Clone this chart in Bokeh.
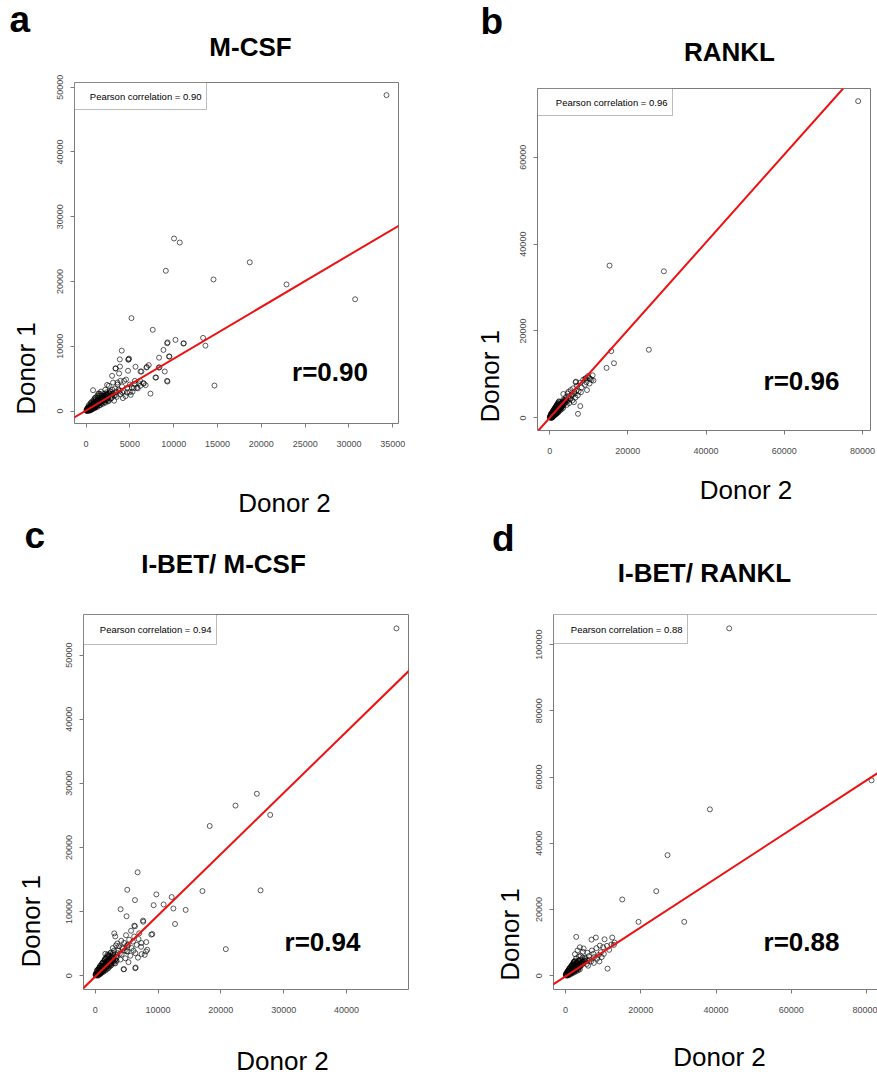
import math
from bokeh.plotting import figure
from bokeh.models import Range1d, FixedTicker, NumeralTickFormatter, Label, Slope, BoxAnnotation, Span
from bokeh.layouts import column, row
from bokeh.embed import file_html
from bokeh.resources import INLINE

# ---------------- DATA (Donor 2 = x, Donor 1 = y) ----------------
# Panel a : M-CSF
a_donor2 = [34280, 10040, 10690, 18680, 9100, 14540, 22870, 30700, 5180, 7610, 10200, 11110, 13350, 13620, 9250, 9300,
            4070, 8830, 9470, 8330, 3850, 4840, 4900, 3390, 3870, 5640, 6320, 7150, 8980, 8300, 9290, 7920, 14650, 7350,
            6580, 6000, 2970, 4340, 5210, 800, 2400, 3850, 4990, 3080, 3920, 3580, 4560, 5560, 6160, 6550, 5440, 5800,
            4680, 4130, 3420, 2600, 3770, 4790, 6210, 6890, 3350, 4830, 6940, 7990, 8370, 9510, 9240, 11150,
            2100, 2300, 2500, 2700, 2900, 3100, 3300, 3500, 3700, 3900, 4100, 4300, 4500, 4700, 5000, 5300, 5600, 5900,
            6200, 6800, 2200, 2800, 3200, 3600, 4200, 2600, 3000, 3400, 2400, 5100,
            50, 80, 120, 150, 180, 210, 240, 260, 300, 320, 350, 380, 400, 430, 460, 480, 510, 540, 560, 590, 620, 640,
            670, 700, 720, 750, 780, 800, 830, 860, 880, 910, 940, 960, 990, 1020, 1040, 1070, 1100, 1130, 1160, 1190,
            1220, 1250, 1280, 1310, 1340, 1370, 1400, 1430, 1460, 1500, 1540, 1580, 1620, 1660, 1700, 1740, 1780, 1820,
            1860, 1900, 1950, 2000, 2050, 2100, 2150, 2200, 2250, 2300, 2350, 2450, 2550, 150, 300, 500, 700, 900, 1100,
            1300, 1500, 1700, 600, 900, 1200, 1500, 1800, 2100, 60, 200, 400, 1000, 1400, 600, 1100, 2600, 2900, 3200,
            100, 220, 340, 450, 570, 690, 810, 930, 1050, 1170, 1290, 1410, 1530, 1650, 1770, 1890, 2010, 2130, 2250,
            2370, 130, 280, 430, 580, 730, 880, 1030, 1180, 1330, 1480,
            300, 500, 700, 900, 1100, 1300, 1500, 1700, 400, 700, 1000, 1300, 1600, 1900, 2200, 2500, 250, 550, 850,
            1150, 1450, 1750, 2050, 2350, 350, 650, 950, 1250, 1550, 1850, 2150, 2450, 2700, 2800, 3000, 200, 450, 750,
            1050, 1350]
a_donor1 = [48780, 26640, 26020, 22970, 21660, 20320, 19550, 17260, 14350, 12550, 10990, 10420, 11300, 10100, 10470, 10600,
            9330, 9440, 8440, 8240, 7980, 7980, 8100, 6580, 6870, 6840, 6110, 7100, 6110, 6730, 4560, 5180, 3940, 2690,
            4250, 4300, 5440, 4660, 3620, 3220, 4040, 3110, 2900, 4400, 4670, 4400, 4870, 4670, 4670, 4310, 3530, 3600,
            2850, 2900, 3000, 3900, 5800, 6220, 6110, 6730, 6580, 7930, 6800, 5180, 6730, 8400, 4670, 10470,
            1800, 2600, 2100, 3100, 2400, 2700, 3500, 2200, 3300, 2600, 3800, 3100, 2300, 3600, 4100, 3000, 4200, 3500,
            3900, 4000, 3300, 1900, 1600, 4100, 2000, 2800, 3300, 2500, 1700, 2500,
            30, 150, 60, 200, 120, 280, 180, 90, 350, 240, 150, 420, 300, 210, 500, 380, 260, 600, 450, 330, 700, 520,
            410, 780, 600, 480, 900, 700, 560, 1000, 760, 640, 1100, 850, 720, 1200, 950, 800, 1300, 1050, 880, 1400,
            1150, 960, 1500, 1250, 1050, 1600, 1350, 1150, 1700, 1450, 1250, 1800, 1550, 1350, 1950, 1650, 1450, 2050,
            1750, 1550, 2200, 1900, 1650, 2350, 2000, 1750, 2450, 2100, 1850, 2300, 2000, 400, 600, 900, 1200, 1500, 1800,
            2100, 2400, 2600, 200, 450, 700, 900, 1200, 1400, 250, 500, 150, 2000, 2700, 1300, 600, 1600, 2000, 2400,
            120, 260, 380, 470, 640, 720, 860, 1000, 1100, 1250, 1380, 1500, 1600, 1750, 1850, 2000, 2100, 2250, 2300,
            2500, 40, 100, 250, 330, 500, 620, 780, 950, 1100, 1250,
            900, 1200, 1500, 1800, 2100, 2400, 2700, 3000, 50, 250, 450, 650, 900, 1100, 1300, 1500, 600, 850, 1250,
            1600, 1950, 2300, 2650, 2900, 500, 800, 1150, 1450, 1750, 2050, 2350, 2650, 2700, 3000, 2600, 350, 700, 1000,
            1350, 1700]

# Panel b : RANKL
b_donor2 = [78920, 15320, 29220, 25380, 15760, 16450, 14560, 10730, 9550, 7840, 7250, 9120, 6740, 10060, 9210, 6640,
            3500, 4200, 4800, 5200, 5600, 6000, 6400, 7000, 7400, 7800, 8200, 8600, 9000, 9800, 10400, 11200, 5000, 5800,
            6600, 7200, 4400, 3800, 3200, 6200, 8000, 9400, 4600, 5400, 3000, 6800, 11000, 10200,
            100, 200, 300, 400, 500, 600, 700, 800, 900, 1000, 1100, 1200, 1300, 1400, 1500, 1600, 1700, 1800, 1900, 2000,
            2100, 2200, 2300, 2400, 2500, 2600, 2700, 2800, 2900, 3000, 3200, 3400, 3600, 3800, 150, 350, 550, 750, 950,
            1150, 1350, 1550, 1750, 1950, 2150, 2350, 250, 650, 1050, 1450, 1850, 2250, 2650, 3050, 3450, 400, 800, 1200,
            1600, 2000, 2400, 500, 900, 1300, 1700, 2100, 50, 300, 700, 1000, 1500, 2500, 3000, 3500, 4000, 4200, 4600,
            1800, 2200, 2600, 120, 330, 480, 760, 1020, 1270, 1530, 1780, 2040, 2290, 2560, 2830, 3100, 3370,
            300, 600, 900, 1200, 1500, 1800, 2100, 2400, 500, 800, 1100, 1400, 1700, 2000, 2300, 2600, 2900, 3200, 450,
            750, 1050, 1350, 1650, 1950, 2250, 2550, 2850, 3150, 3450, 3700, 4100, 4400, 4900, 5300, 5800, 6300]
b_donor1 = [72910, 35060, 33750, 15690, 15360, 12580, 11510, 8730, 6410, 2710, 930, 8970, 8340, 9200, 9130, 8180,
            5500, 4800, 6000, 4300, 5200, 6800, 5600, 7400, 6100, 8100, 7000, 8800, 7600, 9600, 9000, 8600, 3400, 4000,
            4700, 5200, 3000, 4100, 3600, 3600, 5900, 8200, 5600, 6400, 2400, 6300, 9800, 7900,
            80, 300, 150, 500, 300, 700, 450, 900, 600, 1100, 800, 1300, 1000, 1500, 1200, 1700, 1300, 1900, 1500, 2100,
            1700, 2300, 1900, 2600, 2100, 2800, 2300, 3000, 2500, 3200, 2700, 3500, 3000, 3700, 400, 800, 1000, 1300, 1600,
            1900, 2200, 2500, 2800, 3100, 3400, 3700, 20, 200, 500, 800, 1100, 1400, 1700, 2000, 2300, 900, 1500, 2000,
            2400, 2900, 3300, 10, 300, 600, 900, 1200, 200, 600, 100, 1400, 1900, 3000, 2800, 4200, 3500, 4300, 4100,
            2600, 2000, 2400, 200, 250, 600, 650, 1000, 1150, 1450, 1600, 1900, 2050, 2400, 2500, 2900, 3050,
            800, 1200, 1600, 2100, 2500, 2900, 3300, 3800, 100, 300, 600, 900, 1200, 1500, 1800, 2000, 2300, 2600, 550,
            900, 1250, 1550, 1900, 2250, 2600, 2900, 3250, 3550, 3800, 3300, 4000, 3700, 5000, 4600, 5300, 6000]

# Panel c : I-BET / M-CSF
c_donor2 = [47960, 25730, 22330, 27860, 18230, 26320, 17070, 20790, 6750, 5100, 6330, 9730, 9300, 10890, 12170, 12440,
            14400, 12710, 4040, 4990, 6220, 7610, 7650, 3030, 3190, 4150, 9090, 8930, 8130, 7340, 8090, 7880, 4510, 6380,
            5150, 7380, 8290, 6430, 4580, 6330,
            2200, 2600, 3000, 3400, 3800, 4200, 4600, 5000, 5400, 5800, 6200, 6600, 7000, 2400, 2800, 3200, 3600, 4000,
            4400, 4800, 5200, 5600, 6000, 6400, 3500, 4900, 5700, 6900, 7300, 2900, 3300, 2500, 5300, 6800, 6100,
            80, 160, 240, 320, 400, 480, 560, 640, 720, 800, 880, 960, 1040, 1120, 1200, 1280, 1360, 1440, 1520, 1600,
            1680, 1760, 1840, 1920, 2000, 2100, 2200, 2300, 2400, 2500, 2600, 2700, 100, 300, 500, 700, 900, 1100, 1300,
            1500, 1700, 1900, 200, 600, 1000, 1400, 1800, 2200, 2600, 3000, 350, 750, 1150, 1550, 1950, 450, 850, 1250,
            1650, 2050, 50, 650, 1050, 1450, 1850, 2250, 2650, 3100, 1600, 2800,
            130, 390, 610, 870, 1130, 1390, 1610, 1870, 2130, 2390, 2610, 2870,
            300, 600, 900, 1200, 1500, 1800, 2100, 2400, 500, 800, 1100, 1400, 1700, 2000, 2300, 2600, 2900, 3200, 450,
            750, 1050, 1350, 1650, 1950, 2250, 2550, 2850, 3300, 3600, 3900, 4300, 4700, 5100, 3400]
c_donor1 = [54170, 28370, 26530, 25070, 23340, 13300, 13190, 4130, 16120, 13390, 11780, 12670, 10990, 11100, 12250, 10470,
            10250, 8060, 10360, 9260, 7800, 8590, 8400, 6590, 6120, 5440, 6480, 6400, 5230, 5080, 3770, 3230, 990, 1150,
            3770, 3350, 4030, 1260, 990, 7690,
            3100, 2300, 3900, 2800, 4600, 3300, 5100, 3800, 5600, 4300, 6100, 4800, 6600, 1500, 4300, 1900, 3500, 2500,
            4200, 2700, 4700, 3100, 5300, 3500, 5000, 6300, 7000, 5700, 4500, 2600, 4700, 3600, 2100, 2800, 3900,
            60, 250, 120, 380, 220, 520, 330, 700, 440, 880, 560, 1050, 700, 1250, 850, 1400, 1000, 1600, 1150, 1800,
            1300, 1950, 1450, 2150, 1600, 2350, 1800, 2550, 2000, 2700, 2200, 2900, 350, 650, 950, 1250, 1550, 1850, 2150,
            2450, 2750, 3000, 10, 150, 450, 750, 1050, 1350, 1650, 1950, 900, 1500, 2000, 2600, 3300, 0, 250, 550,
            800, 1100, 150, 1000, 1500, 1900, 2300, 2700, 3100, 2400, 3400, 3500,
            200, 300, 700, 750, 1200, 1200, 1700, 1700, 2200, 2200, 2700, 2600,
            800, 1200, 1600, 2000, 2400, 2800, 3200, 3500, 100, 350, 650, 900, 1200, 1450, 1700, 1900, 2200, 2500, 550,
            900, 1250, 1550, 1900, 2250, 2550, 2900, 3250, 3000, 3900, 3400, 4400, 3900, 4800, 2300]

# Panel d : I-BET / RANKL
d_donor2 = [43500, 81330, 38360, 27110, 24110, 15070, 19400, 31550, 11160, 2840, 6910, 8060, 10370, 12410, 12840, 9120,
            10180, 7520, 3800,
            2500, 3200, 4000, 4600, 5200, 5800, 6400, 7000, 7600, 8200, 8800, 9400, 10000, 11000, 12200, 3400, 4200, 5000,
            5600, 6200, 6800, 7400, 8400, 9600, 2800, 3600, 4800, 11600, 2200, 6000, 9000, 13000,
            100, 250, 400, 550, 700, 850, 1000, 1150, 1300, 1450, 1600, 1750, 1900, 2050, 2200, 2350, 2500, 2650, 2800,
            2950, 3100, 3300, 3500, 3700, 3900, 4100, 4300, 4500, 150, 450, 750, 1050, 1350, 1650, 1950, 2250, 2550, 300,
            800, 1300, 1800, 2300, 2800, 3300, 3800, 600, 1200, 1800, 2400, 3000, 3600, 50, 500, 1100, 1700, 2100, 2700,
            3200, 4000, 4700, 5000, 500, 900, 1500,
            180, 420, 680, 930, 1180, 1430, 1690, 1940, 2190, 2440, 2700, 2950, 3200, 3450,
            300, 600, 900, 1200, 1500, 1800, 2100, 2400, 500, 900, 1300, 1700, 2100, 2500, 2900, 3300, 3700, 450, 750,
            1050, 1350, 1650, 1950, 2250, 2550, 2850, 3150, 3500, 3900, 4300, 4800, 5300, 5800, 4500]
d_donor1 = [104900, 59000, 50230, 36400, 25510, 23000, 16250, 16250, 2120, 11710, 10890, 11500, 10980, 11500, 9290, 9080,
            6560, 3840, 8570,
            6500, 7600, 6000, 7200, 5400, 6900, 4800, 7600, 5600, 8300, 6200, 7100, 8600, 9000, 9400, 4400, 3900, 4600,
            3500, 5900, 4300, 6600, 5100, 5600, 5200, 5800, 8200, 7800, 4200, 3000, 4300, 10000,
            100, 400, 150, 700, 350, 950, 600, 1250, 850, 1500, 1050, 1800, 1300, 2100, 1550, 2400, 1800, 2700, 2050,
            3000, 2300, 3300, 2600, 3600, 2900, 3900, 3200, 4200, 600, 1100, 1600, 2100, 2600, 3100, 3600, 4100, 4500, 10,
            100, 400, 700, 1000, 1300, 1600, 1900, 1300, 2300, 3000, 3400, 4000, 4600, 300, 200, 800, 1400, 2800, 3500,
            2900, 3100, 3700, 4500, 900, 1900, 2000,
            250, 300, 650, 750, 1100, 1250, 1500, 1700, 2000, 2200, 2450, 2650, 2950, 3100,
            900, 1400, 1900, 2400, 2900, 3300, 3800, 4200, 100, 400, 700, 1000, 1300, 1600, 1900, 2100, 2400, 550, 950,
            1350, 1700, 2100, 2500, 2850, 3200, 3600, 3900, 4300, 4700, 3700, 4200, 5000, 4600, 5400]

# tick values
a_xticks = [0, 5000, 10000, 15000, 20000, 25000, 30000, 35000]
a_yticks = [0, 10000, 20000, 30000, 40000, 50000]
b_xticks = [0, 20000, 40000, 60000, 80000]
b_yticks = [0, 20000, 40000, 60000]
c_xticks = [0, 10000, 20000, 30000, 40000]
c_yticks = [0, 10000, 20000, 30000, 40000, 50000]
d_xticks = [0, 20000, 40000, 60000, 80000]
d_yticks = [0, 20000, 40000, 60000, 80000, 100000]

# regression lines: slope, intercept
a_fit = (0.80, 80)
b_fit = (1.01, 0)
c_fit = (0.955, -150)
d_fit = (0.74, -200)

panel_letters = ["a", "b", "c", "d"]
panel_titles = ["M-CSF", "RANKL", "I-BET/ M-CSF", "I-BET/ RANKL"]
pearson_vals = ["0.90", "0.96", "0.94", "0.88"]

# ---------------- STYLE / LAYOUT ----------------
FONT = "Liberation Sans"
BOX_COL = "#7a7a7a"
TICK_LAB_COL = "#4a4a4a"


def r_range(vals):
    lo, hi = min(vals), max(vals)
    span = hi - lo
    return lo - 0.04 * span, hi + 0.04 * span


def mk_label(fx, fy, H, text, size, bold=False, align="left", baseline="middle", angle=0.0, left=0, bottom=0):
    return Label(x=fx - left, y=(H - bottom) - fy, x_units="screen", y_units="screen",
                 text=text, text_font=FONT, text_font_size=f"{size}px",
                 text_font_style="bold" if bold else "normal", text_color="black",
                 text_align=align, text_baseline=baseline, angle=angle)


def text_fig(W, H, labels):
    p = figure(width=W, height=H, output_backend="svg", toolbar_location=None,
               x_range=Range1d(0, 1), y_range=Range1d(0, 1), min_border=0,
               x_axis_location=None, y_axis_location=None,
               background_fill_color="white", border_fill_color="white")
    p.outline_line_color = None
    p.grid.visible = False
    for lab in labels:
        p.add_layout(lab)
    return p


def letter_lab(x, y, H, t):
    return mk_label(x, y, H, t, 37, bold=True)


def title_lab(x, y, H, t):
    return mk_label(x, y, H, t, 26, bold=True, align="center")


def donor2_lab(x, y, H):
    return mk_label(x, y, H, "Donor 2", 26, align="center")


def plot_fig(W, H, mb, xs, ys, xt, yt, fit, pear, rpos, boxw, boxh, x_frac=1.0, boxed=True):
    # mb = (left, right, top, bottom) borders
    x0, x1 = r_range(xs)
    y0, y1 = r_range(ys)
    x1 = x0 + (x1 - x0) * x_frac
    p = figure(width=W, height=H, output_backend="svg", toolbar_location=None,
               x_range=Range1d(x0, x1), y_range=Range1d(y0, y1),
               min_border_left=mb[0], min_border_right=mb[1], min_border_top=mb[2], min_border_bottom=mb[3],
               background_fill_color="white", border_fill_color="white")
    p.grid.visible = False
    p.outline_line_color = BOX_COL if boxed else None
    for ax, ticks, stand, orient in ((p.xaxis, xt, 13, "horizontal"), (p.yaxis, yt, 7, "vertical")):
        ax.ticker = FixedTicker(ticks=ticks)
        ax.formatter = NumeralTickFormatter(format="0")
        ax.axis_line_color = None if boxed else BOX_COL
        ax.major_tick_line_color = BOX_COL
        ax.major_tick_out = 4
        ax.major_tick_in = 0
        ax.minor_tick_line_color = None
        ax.major_label_text_font = FONT
        ax.major_label_text_font_size = "9px"
        ax.major_label_text_color = TICK_LAB_COL
        ax.major_label_standoff = stand
        ax.major_label_orientation = orient
    if not boxed:
        p.add_layout(Span(location=y1, dimension="width", line_color=BOX_COL, line_width=1))

    p.scatter(xs, ys, marker="circle", size=5, fill_color=None, line_color="black",
              line_alpha=0.8, line_width=0.8)
    p.add_layout(Slope(gradient=fit[0], y_intercept=fit[1], line_color="#ee1111", line_width=2))

    fh = H - mb[2] - mb[3]
    p.add_layout(BoxAnnotation(left=0, right=boxw, top=fh, bottom=fh - boxh,
                               left_units="screen", right_units="screen", top_units="screen",
                               bottom_units="screen", fill_color="white", fill_alpha=1.0,
                               line_color="#222222", line_width=1, level="annotation"))
    lab = mk_label(mb[0] + boxw - 5, mb[2] + boxh / 2, H, f"Pearson correlation = {pear}", 9.5,
                   align="right", left=mb[0], bottom=mb[3])
    lab.level = "overlay"
    p.add_layout(lab)
    p.add_layout(mk_label(rpos[0], rpos[1], H, f"r={pear}", 26, bold=True, align="center",
                          left=mb[0], bottom=mb[3]))
    return p


def body_row(W, H, strip_w, d1_pos, mb, xs, ys, xt, yt, fit, pear, rpos, boxw, boxh, x_frac=1.0, boxed=True):
    strip = text_fig(strip_w, H, [
        mk_label(d1_pos[0], d1_pos[1], H, "Donor 1", 26, align="center", angle=math.pi / 2),
    ])
    body = plot_fig(W - strip_w, H, mb, xs, ys, xt, yt, fit, pear, rpos, boxw, boxh,
                    x_frac=x_frac, boxed=boxed)
    return row(strip, body)


# ---- left column (panels a and c) ----
LW = 440
left_col = column(
    text_fig(LW, 68, [letter_lab(9, 18.5, 68, panel_letters[0]), title_lab(250, 46, 68, panel_titles[0])]),
    body_row(LW, 400, 48, (25, 345), (26, 42, 14, 45), a_donor2, a_donor1, a_xticks, a_yticks, a_fit,
             pearson_vals[0], (281.5, 303.5), 132, 27),
    text_fig(LW, 122, [donor2_lab(284, 34, 122), letter_lab(24, 67.4, 122, panel_letters[2]),
                       title_lab(223, 95, 122, panel_titles[2])]),
    body_row(LW, 435, 48, (30, 366.7), (35, 32, 24, 36), c_donor2, c_donor1, c_xticks, c_yticks, c_fit,
             pearson_vals[2], (274, 351.5), 133, 30),
    text_fig(LW, 53, [donor2_lab(282, 35, 53)]),
)

# ---- right column (panels b and d) ----
RW = 437
right_col = column(
    text_fig(RW, 68, [letter_lab(40, 20.7, 68, panel_letters[1]), title_lab(289, 51.5, 68, panel_titles[1])]),
    body_row(RW, 398, 70, (49, 343.7), (27, 7, 20, 36), b_donor2, b_donor1, b_xticks, b_yticks, b_fit,
             pearson_vals[1], (291, 312), 135, 27),
    text_fig(RW, 124, [donor2_lab(305.5, 23, 124), letter_lab(51.5, 72, 124, panel_letters[3]),
                       title_lab(264, 106.3, 124, panel_titles[3])]),
    body_row(RW, 435, 85, (69, 380), (28, 0, 24, 36), d_donor2, d_donor1, d_xticks, d_yticks, d_fit,
             pearson_vals[3], (276, 351.5), 134, 29, x_frac=0.981, boxed=False),
    text_fig(RW, 53, [donor2_lab(279, 31.5, 53)]),
)

layout = row(left_col, right_col)
open("out.html", "w").write(file_html(layout, INLINE))
